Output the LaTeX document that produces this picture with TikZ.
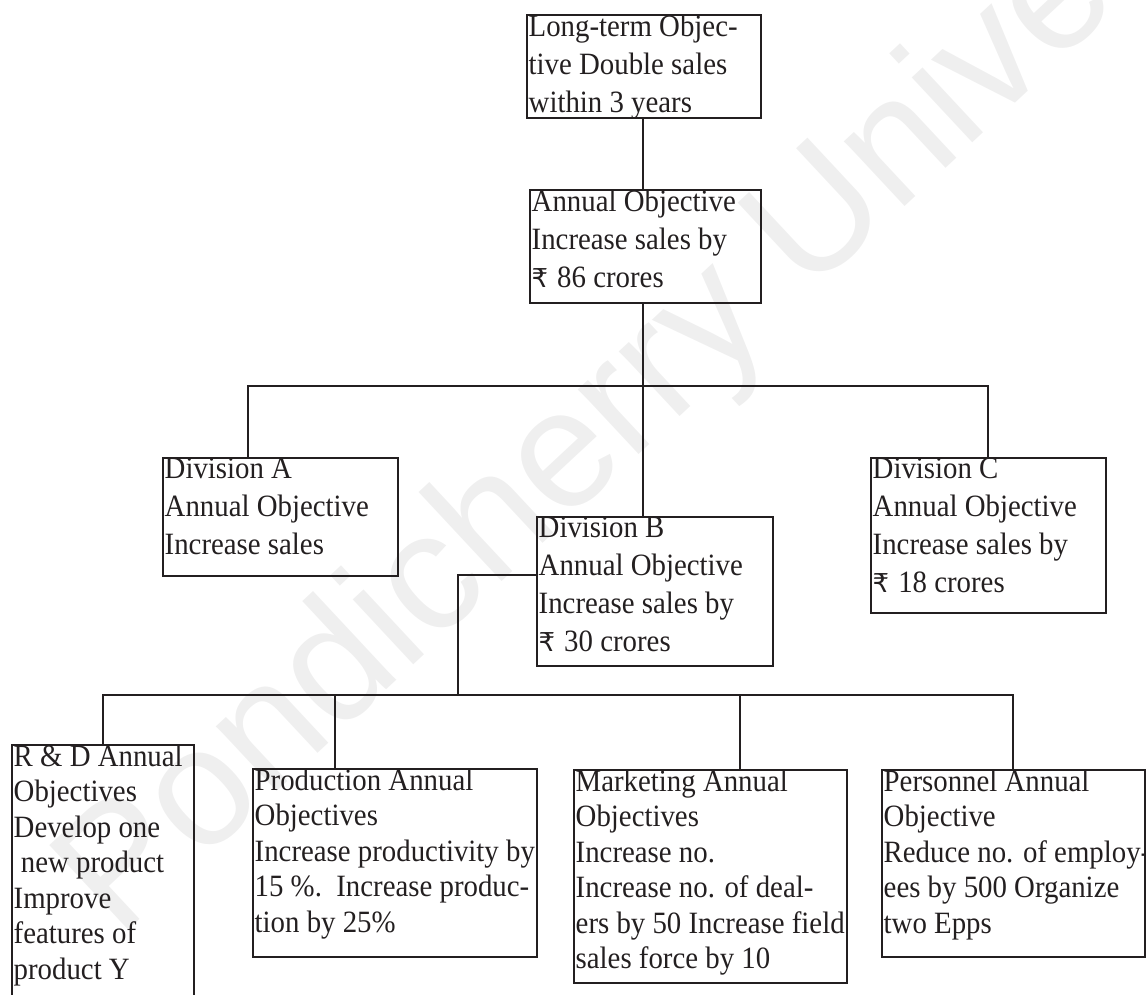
\documentclass[tikz,border=0pt]{standalone}
\usepackage{fontspec}
\setmainfont[FakeStretch=0.93]{Liberation Serif}
\newfontfamily\rupeefont{DejaVu Sans}
\newfontfamily\markfont{Liberation Sans}
\definecolor{ink}{HTML}{231F20}
\definecolor{markgray}{HTML}{EFEFEF}
\newcommand\rupeesign{{\rupeefont\fontsize{26}{30}\selectfont ₹}\hspace{9pt}}
\tikzset{
  box/.style={draw=ink, line width=2pt, anchor=north west, inner sep=0pt, outer sep=0pt},
  txt/.style={anchor=north west, inner sep=0pt, xshift=1.5pt, yshift=0.5pt, align=left, text=ink,
              font=\fontsize{31}{#1}\selectfont},
  txt/.default=38,
  link/.style={draw=ink, line width=2pt, line join=miter},
}
\begin{document}
\begin{tikzpicture}[x=1pt,y=-1pt]
\useasboundingbox (0,0) rectangle (1146,994);
\clip (0,0) rectangle (1146,994);

% faint background imprint
\node[anchor=base west, rotate=43, inner sep=0pt, text=markgray,
      font=\markfont\fontsize{168}{168}\selectfont] (imprint) at (118,940) {Pondicherry University};

% boxes
\node[box, minimum width=234pt, minimum height=103pt] (top)    at (527,15)  {};
\node[box, minimum width=231pt, minimum height=113pt] (annual) at (530,190) {};
\node[box, minimum width=235pt, minimum height=118pt] (divA)   at (163,458) {};
\node[box, minimum width=236pt, minimum height=149pt] (divB)   at (537,517) {};
\node[box, minimum width=235pt, minimum height=155pt] (divC)   at (871,458) {};
\node[box, minimum width=182pt, minimum height=280pt] (rd)     at (12,745)  {};
\node[box, minimum width=284pt, minimum height=188pt] (prod)   at (253,769) {};
\node[box, minimum width=273pt, minimum height=213pt] (mkt)    at (574,770) {};
\node[box, minimum width=263pt, minimum height=187pt] (pers)   at (882,770) {};

% box texts
\node[txt] (topT) at (top.north west) {Long-term Objec-\\tive Double sales\\within 3 years};
\node[txt] (annualT) at (annual.north west) {Annual Objective\\Increase sales by\\\rupeesign 86 crores};
\node[txt] (divAT) at (divA.north west) {Division A\\Annual Objective\\Increase sales};
\node[txt] (divBT) at (divB.north west) {Division B\\Annual Objective\\Increase sales by\\\rupeesign 30 crores};
\node[txt] (divCT) at (divC.north west) {Division C\\Annual Objective\\Increase sales by\\\rupeesign 18 crores};
\node[txt=35.5] (rdT) at (rd.north west) {R \& D Annual\\Objectives\\Develop one\\\ new product\\Improve\\features of\\product Y};
\node[txt=35.5] (prodT) at (prod.north west) {Production Annual\\Objectives\\Increase productivity by\\15 \%.\ \ Increase produc-\\tion by 25\%};
\node[txt=35.5] (mktT) at (mkt.north west) {Marketing Annual\\Objectives\\Increase no.\\Increase no. of deal-\\ers by 50 Increase field\\sales force by 10};
\node[txt=35.5] (persT) at (pers.north west) {Personnel Annual\\Objective\\Reduce no. of employ-\\ees by 500 Organize\\two Epps};

% connector anchor points
\coordinate (trunk) at (643,386);
\coordinate (busAL) at (248,386);
\coordinate (busCR) at (988,386);
\coordinate (bend)  at (458,575);
\coordinate (drop)  at (458,695);
\coordinate (busL)  at (103,695);
\coordinate (busR)  at (1013,695);
\coordinate (tapP)  at (335,695);
\coordinate (tapM)  at (740,695);

% connectors
\draw[link] (top.south -| trunk) -- (annual.north -| trunk);
\draw[link] (annual.south -| trunk) -- (divB.north -| trunk);
\draw[link] (divA.north -| busAL) -- (busAL) -- (busCR) -- (divC.north -| busCR);
\draw[link] (divB.west |- bend) -- (bend) -- (drop);
\draw[link] (rd.north -| busL) -- (busL) -- (busR) -- (pers.north -| busR);
\draw[link] (tapP) -- (prod.north -| tapP);
\draw[link] (tapM) -- (mkt.north -| tapM);
\end{tikzpicture}
\end{document}
